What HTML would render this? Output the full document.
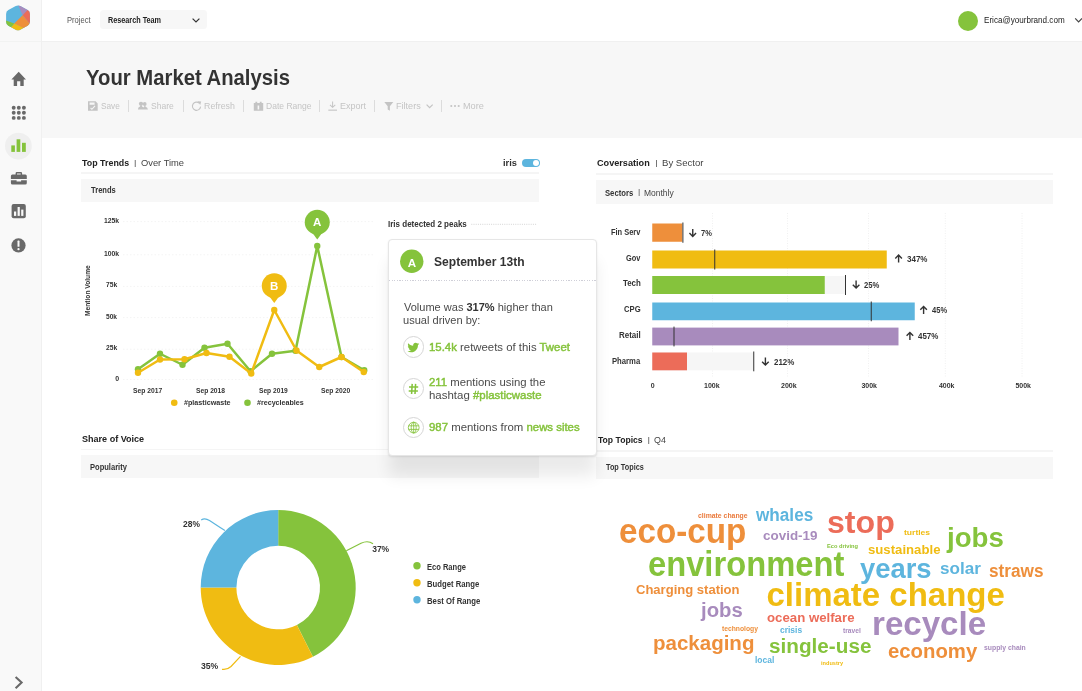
<!DOCTYPE html>
<html lang="en"><head><meta charset="utf-8"><title>Your Market Analysis</title>
<style>
*{box-sizing:border-box}
html,body{margin:0;padding:0}
body{width:1082px;height:691px;overflow:hidden;background:#fff;font-family:"Liberation Sans",sans-serif;color:#333}
#app{position:relative;width:1082px;height:691px;overflow:hidden;background:#fff}
.t{position:absolute;white-space:nowrap;line-height:1;margin:0;transform-origin:0 50%;font-weight:400}
.t b{font-weight:700;color:#333}
.t b.g{color:#85c33c;font-weight:400;-webkit-text-stroke:.45px #85c33c}
.rot{transform-origin:0 0;transform:rotate(-90deg);width:0;height:0}
svg.ov{position:absolute;left:0;top:0;width:1082px;height:691px;overflow:visible;pointer-events:none}
#sidebar{position:absolute;left:0;top:0;width:42px;height:691px;background:#f9f9f9;border-right:1px solid #f0f0f0}
#logo{position:absolute;left:0;top:0;width:41px;height:42px;border-bottom:1px solid #f2f3f2}
#header{position:absolute;left:42px;top:0;width:1040px;height:42px;background:#fff;border-bottom:1px solid #f0f0f0}
#hero{position:absolute;left:42px;top:41px;width:1040px;height:97px;background:#f7f7f7}
.select{position:absolute;left:100px;top:10.4px;width:107.4px;height:19.1px;background:#f7f7f7;border-radius:3.5px}
.avatar{position:absolute;left:957.8px;top:10.6px;width:20.2px;height:20.2px;border-radius:50%;background:#85c33c}
.sep{position:absolute;top:100px;width:1px;height:12px;background:#dcdcdc}
.rule{position:absolute;height:1.4px;background:#f5f5f5}
.band{position:absolute;background:#f7f7f7}
#tip{position:absolute;left:388.4px;top:239px;width:208.4px;height:217.4px;background:#fff;border:1px solid #e6e6e6;border-radius:4px;box-shadow:0 21px 16px -1px rgba(0,0,0,.082),0 1px 2px rgba(0,0,0,.09)}
#tip .hr{position:absolute;left:0;right:0;top:39.9px;height:1px;background:repeating-linear-gradient(90deg,#cfcfd8 0 1.3px,transparent 1.3px 2.6px)}
.ico{position:absolute;width:21.2px;height:21.2px;border:1px solid #d6d6d6;border-radius:50%;background:#fff}
.toggle{position:absolute;left:522.2px;top:159px;width:17.9px;height:8.4px;border-radius:5px;background:#5db5de}
.toggle i{position:absolute;right:.9px;top:.9px;width:6.6px;height:6.6px;border-radius:50%;background:#fff}
</style></head>
<body>
<div id="app">
<section id="hero">
</section>
<header id="header"></header>
<nav id="sidebar"><div id="logo"></div></nav>
<svg class="ov" viewBox="0 0 1082 691"><defs><clipPath id="hx"><path d="M15.72 6.00Q18.00 4.75 20.28 6.00L27.63 10.05Q29.91 11.30 29.91 13.90L29.91 21.80Q29.91 24.40 27.63 25.65L20.28 29.70Q18.00 30.95 15.72 29.70L8.37 25.65Q6.09 24.40 6.09 21.80L6.09 13.90Q6.09 11.30 8.37 10.05Z"/></clipPath></defs><g clip-path="url(#hx)"><rect x="3" y="3" width="30" height="30" fill="#5db5de"/><path d="M17.60 3.75L31.91 9.30L27.6 10.4L22.6 15.3Z" fill="#a88bbd"/><path d="M27.4 10.2L33 8L33 25L29.6 23.4L22.6 15.3Z" fill="#ec6c59"/><path d="M22.6 15.3L29.6 23.4L32 26L24 30.5L23.4 28.2L14.3 23.5Z" fill="#ee8f3b"/><path d="M14.3 23.5L23.6 28.1L18 33L10.6 27.4Z" fill="#f0bc12"/><path d="M3 19.4L14.3 23.5L10.6 27.6L3 29Z" fill="#85c33c"/></g><path d="M18.7 71.8L26 79.4H23.7V86H20.3V81.2H17.1V86H13.7V79.4H11.4Z" fill="#696969"/><circle cx="13.7" cy="107.7" r="1.95" fill="#696969"/><circle cx="18.799999999999997" cy="107.7" r="1.95" fill="#696969"/><circle cx="23.9" cy="107.7" r="1.95" fill="#696969"/><circle cx="13.7" cy="112.8" r="1.95" fill="#696969"/><circle cx="18.799999999999997" cy="112.8" r="1.95" fill="#696969"/><circle cx="23.9" cy="112.8" r="1.95" fill="#696969"/><circle cx="13.7" cy="117.9" r="1.95" fill="#696969"/><circle cx="18.799999999999997" cy="117.9" r="1.95" fill="#696969"/><circle cx="23.9" cy="117.9" r="1.95" fill="#696969"/><circle cx="18.4" cy="146.1" r="13.4" fill="#efefef"/><rect x="11.3" y="145.4" width="3.6" height="6.5" fill="#85c33c"/><rect x="16.6" y="139.3" width="3.7" height="12.6" fill="#85c33c"/><rect x="22" y="142.8" width="3.8" height="9.1" fill="#85c33c"/><path d="M15.6 174.6V173.2Q15.6 172 16.8 172H20.9Q22.1 172 22.1 173.2V174.6H25.3Q26.8 174.6 26.8 176.1V179H10.9V176.1Q10.9 174.6 12.4 174.6ZM17 174.6H20.7V173.4H17ZM10.9 180.2H16.6V181.4H21.1V180.2H26.8V183.1Q26.8 184.6 25.3 184.6H12.4Q10.9 184.6 10.9 183.1Z" fill="#696969" fill-rule="evenodd"/><rect x="11.6" y="204.1" width="14.2" height="14.2" rx="2" fill="#696969"/><rect x="14" y="211.5" width="2.2" height="4.4" fill="#f9f9f9"/><rect x="17.6" y="207" width="2.2" height="8.9" fill="#f9f9f9"/><rect x="21.2" y="209.6" width="2.2" height="6.3" fill="#f9f9f9"/><circle cx="18.5" cy="245.4" r="7.1" fill="#696969"/><rect x="17.5" y="240.6" width="2" height="6.2" rx=".6" fill="#f9f9f9"/><circle cx="18.5" cy="249.2" r="1.15" fill="#f9f9f9"/><path d="M15.6 677L21.6 682.5L15.6 688.2" fill="none" stroke="#696969" stroke-width="2.1"/></svg>
<div class="hdr"><div class="select"></div><div class="avatar"></div>
<span class="t" style="left:66.81px;top:16.10px;font-size:9px;color:#555;transform:scaleX(0.8412);">Project</span>
<span class="t" style="left:107.80px;top:16.10px;font-size:8.8px;font-weight:700;color:#222;transform:scaleX(0.8238);">Research Team</span>
<span class="t" style="left:984.07px;top:16.10px;font-size:8.6px;color:#222;transform:scaleX(0.9419);">Erica@yourbrand.com</span>
<svg class="ov" viewBox="0 0 1082 691"><path d="M192.6 18.6L196 22L199.4 18.6" fill="none" stroke="#333" stroke-width="1.2"/><path d="M1075.2 18.4L1078.6 21.8L1082 18.4" fill="none" stroke="#444" stroke-width="1.2"/></svg></div>
<div class="titlebar">
<h1 class="t h1" style="left:85.93px;top:67.10px;font-size:22px;font-weight:700;transform:scaleX(0.9217);">Your Market Analysis</h1>
<div class="toolbar"><i class="sep" style="left:128.1px"></i><i class="sep" style="left:182.6px"></i><i class="sep" style="left:242.9px"></i><i class="sep" style="left:319.1px"></i><i class="sep" style="left:374.1px"></i><i class="sep" style="left:441.1px"></i>
<span class="t" style="left:100.99px;top:101.10px;font-size:9.8px;color:#c4c4c4;transform:scaleX(0.8433);">Save</span>
<span class="t" style="left:151.48px;top:101.10px;font-size:9.8px;color:#c4c4c4;transform:scaleX(0.8742);">Share</span>
<span class="t" style="left:204.31px;top:101.10px;font-size:9.8px;color:#c4c4c4;transform:scaleX(0.9016);">Refresh</span>
<span class="t" style="left:266.08px;top:101.10px;font-size:9.8px;color:#c4c4c4;transform:scaleX(0.8703);">Date Range</span>
<span class="t" style="left:340.05px;top:101.10px;font-size:9.8px;color:#c4c4c4;transform:scaleX(0.9150);">Export</span>
<span class="t" style="left:395.54px;top:101.10px;font-size:9.8px;color:#c4c4c4;transform:scaleX(0.9277);">Filters</span>
<span class="t" style="left:462.54px;top:101.10px;font-size:9.8px;color:#c4c4c4;transform:scaleX(0.9331);">More</span>
<svg class="ov" viewBox="0 0 1082 691"><path d="M88 101.3H95.6L97.7 103.4V110.8H88ZM89.6 102.4V104.8H94.6V102.4ZM90.2 108.2L91.9 109.9L95.4 106.2L94.6 105.5L91.9 108.4L91 107.5Z" fill="#c4c4c4" fill-rule="evenodd"/><circle cx="141" cy="103.8" r="2.15" fill="#c4c4c4"/><circle cx="144.7" cy="104" r="1.9" fill="#c4c4c4"/><path d="M137.9 109.5Q138 107.2 140 106.6L140.4 105.4H141.7L142.1 106.6Q143 106.9 143.4 107.5Q143.8 106.9 144.2 106.7L144.3 105.6H145.3L145.6 106.7Q147.7 107.3 147.9 109.5Z" fill="#c4c4c4"/><path d="M199.3 103.2A4.1 4.1 0 1 0 200.6 106.6" fill="none" stroke="#c4c4c4" stroke-width="1.1"/><path d="M197.5 101.2L201.2 101.6L200.2 105Z" fill="#c4c4c4"/><path d="M253.8 103H255.4V101.8H257.2V103H259.8V101.8H261.6V103H263.2V110.8H253.8ZM257.6 105.4V109.6H259.2V105.4Z" fill="#c4c4c4" fill-rule="evenodd"/><path d="M332.1 101.4H333.1V106.2L334.9 104.6L335.6 105.3L332.6 108L329.6 105.3L330.3 104.6L332.1 106.2Z" fill="#c4c4c4"/><rect x="328.3" y="109.6" width="8.7" height="1.1" fill="#c4c4c4"/><path d="M384.3 102H393.3L389.9 106.2V110.8L387.7 109.6V106.2Z" fill="#c4c4c4"/><path d="M426.6 104.6L429.6 107.6L432.7 104.6" fill="none" stroke="#c4c4c4" stroke-width="1.2"/><circle cx="451.3" cy="106" r="1.05" fill="#c4c4c4"/><circle cx="455" cy="106" r="1.05" fill="#c4c4c4"/><circle cx="458.7" cy="106" r="1.05" fill="#c4c4c4"/></svg></div></div>
<section class="panel" id="p3"><div class="rule" style="left:81px;top:448.8px;width:458px"></div><div class="band" style="left:81px;top:455px;width:458px;height:23px"></div>
<span class="t" style="left:82.06px;top:434.10px;font-size:9.8px;font-weight:700;color:#222;transform:scaleX(0.9231);">Share of Voice</span>
<span class="t" style="left:90.03px;top:463.10px;font-size:8.4px;font-weight:700;transform:scaleX(0.9016);">Popularity</span>
<span class="t" style="left:182.74px;top:520.10px;font-size:8.5px;font-weight:700;transform:scaleX(0.9922);">28%</span>
<span class="t" style="left:372.17px;top:545.10px;font-size:8.5px;font-weight:700;">37%</span>
<span class="t" style="left:200.62px;top:662.10px;font-size:8.5px;font-weight:700;transform:scaleX(1.0142);">35%</span>
<span class="t" style="left:426.93px;top:563.10px;font-size:8.5px;font-weight:700;transform:scaleX(0.8867);">Eco Range</span>
<span class="t" style="left:426.92px;top:580.10px;font-size:8.5px;font-weight:700;transform:scaleX(0.9071);">Budget Range</span>
<span class="t" style="left:426.92px;top:597.10px;font-size:8.5px;font-weight:700;transform:scaleX(0.9095);">Best Of Range</span>
<svg class="ov" viewBox="0 0 1082 691"><path d="M278.20 510.00A77.5 77.5 0 0 1 312.90 656.80L296.92 624.88A41.8 41.8 0 0 0 278.20 545.70Z" fill="#85c33c"/><path d="M312.90 656.80A77.5 77.5 0 0 1 200.70 587.50L236.40 587.50A41.8 41.8 0 0 0 296.92 624.88Z" fill="#f0bc12"/><path d="M200.70 587.50A77.5 77.5 0 0 1 278.20 510.00L278.20 545.70A41.8 41.8 0 0 0 236.40 587.50Z" fill="#5db5de"/><path d="M201.2 520.1C203.4 518.5 206.4 518.6 209.5 520.6C214 523.4 219 527 224.9 530.5" fill="none" stroke="#5db5de" stroke-width="1.2"/><path d="M346.3 550.8L361 543.2Q368 540 373 543.8" fill="none" stroke="#85c33c" stroke-width="1.2"/><path d="M222 669.3Q227 670.2 231 666.5L240.5 656.3" fill="none" stroke="#f0bc12" stroke-width="1.2"/><circle cx="417" cy="565.7" r="3.7" fill="#85c33c"/><circle cx="417" cy="582.7" r="3.7" fill="#f0bc12"/><circle cx="417" cy="599.8" r="3.7" fill="#5db5de"/></svg></section>
<section class="panel" id="p4"><div class="rule" style="left:596.2px;top:450.2px;width:457px"></div><div class="band" style="left:596.2px;top:456.5px;width:457px;height:22.3px"></div>
<span class="t" style="left:598.00px;top:435.10px;font-size:9.8px;font-weight:700;color:#222;transform:scaleX(0.8780);">Top Topics</span>
<span class="t" style="left:648.70px;top:436.10px;font-size:7px;font-weight:700;color:#666;transform:translateX(-50%);">|</span>
<span class="t" style="left:654.33px;top:435.10px;font-size:9.8px;color:#444;transform:scaleX(0.9091);">Q4</span>
<span class="t" style="left:606.25px;top:463.10px;font-size:8.4px;font-weight:700;transform:scaleX(0.8704);">Top Topics</span>
<div class="cloud">
<span class="t" style="left:698.04px;top:512.10px;font-size:7px;font-weight:700;color:#ea7a3c;transform:scaleX(0.9814);">climate change</span>
<span class="t" style="left:755.87px;top:507.10px;font-size:17.5px;font-weight:700;color:#5db5de;transform:scaleX(0.9803);">whales</span>
<span class="t" style="left:619.46px;top:514.10px;font-size:34.5px;font-weight:700;color:#ee8f3b;transform:scaleX(0.9629);">eco-cup</span>
<span class="t" style="left:763.33px;top:529.10px;font-size:13.5px;font-weight:700;color:#a88bbd;transform:scaleX(0.9949);">covid-19</span>
<span class="t" style="left:827.25px;top:507.10px;font-size:31px;font-weight:700;color:#ec6c59;transform:scaleX(1.0362);">stop</span>
<span class="t" style="left:903.75px;top:529.10px;font-size:8px;font-weight:700;color:#f0bc12;transform:scaleX(1.0672);">turtles</span>
<span class="t" style="left:946.68px;top:525.10px;font-size:27px;font-weight:700;color:#85c33c;transform:scaleX(1.0257);">jobs</span>
<span class="t" style="left:826.64px;top:543.10px;font-size:6px;font-weight:700;color:#85c33c;transform:scaleX(0.9479);">Eco driving</span>
<span class="t" style="left:867.84px;top:543.10px;font-size:13.5px;font-weight:700;color:#f0bc12;transform:scaleX(0.9759);">sustainable</span>
<span class="t" style="left:647.58px;top:546.10px;font-size:35px;font-weight:700;color:#85c33c;transform:scaleX(0.9347);">environment</span>
<span class="t" style="left:859.50px;top:554.10px;font-size:28.5px;font-weight:700;color:#5db5de;transform:scaleX(0.9612);">years</span>
<span class="t" style="left:940.22px;top:561.10px;font-size:16px;font-weight:700;color:#5db5de;transform:scaleX(1.0660);">solar</span>
<span class="t" style="left:989.46px;top:562.10px;font-size:18px;font-weight:700;color:#ee8f3b;transform:scaleX(0.9551);">straws</span>
<span class="t" style="left:635.84px;top:584.10px;font-size:12.5px;font-weight:700;color:#ee8f3b;transform:scaleX(1.0425);">Charging station</span>
<span class="t" style="left:766.46px;top:578.10px;font-size:33px;font-weight:700;color:#f0bc12;">climate change</span>
<span class="t" style="left:701.07px;top:601.10px;font-size:19.5px;font-weight:700;color:#a88bbd;transform:scaleX(1.0415);">jobs</span>
<span class="t" style="left:766.59px;top:611.10px;font-size:13px;font-weight:700;color:#ec6c59;transform:scaleX(1.0174);">ocean welfare</span>
<span class="t" style="left:872.43px;top:606.10px;font-size:34px;font-weight:700;color:#a88bbd;transform:scaleX(0.9736);">recycle</span>
<span class="t" style="left:721.75px;top:625.10px;font-size:7px;font-weight:700;color:#ee8f3b;transform:scaleX(0.9629);">technology</span>
<span class="t" style="left:780.24px;top:626.10px;font-size:9px;font-weight:700;color:#5db5de;transform:scaleX(0.9395);">crisis</span>
<span class="t" style="left:843.00px;top:627.10px;font-size:7px;font-weight:700;color:#a88bbd;transform:scaleX(0.9576);">travel</span>
<span class="t" style="left:653.02px;top:633.10px;font-size:20.5px;font-weight:700;color:#ee8f3b;">packaging</span>
<span class="t" style="left:768.85px;top:636.10px;font-size:20px;font-weight:700;color:#85c33c;transform:scaleX(1.0353);">single-use</span>
<span class="t" style="left:888.11px;top:641.10px;font-size:20.5px;font-weight:700;color:#ee8f3b;transform:scaleX(0.9917);">economy</span>
<span class="t" style="left:983.79px;top:645.10px;font-size:6.5px;font-weight:700;color:#a88bbd;transform:scaleX(1.0518);">supply chain</span>
<span class="t" style="left:754.97px;top:656.10px;font-size:8.5px;font-weight:700;color:#5db5de;transform:scaleX(0.9950);">local</span>
<span class="t" style="left:821.05px;top:660.10px;font-size:6px;font-weight:700;color:#f0bc12;transform:scaleX(0.9364);">industry</span>
</div></section>
<section class="panel" id="p2"><div class="rule" style="left:596.2px;top:173px;width:457px;height:1.7px"></div><div class="band" style="left:596.2px;top:180.2px;width:457px;height:23.6px"></div>
<span class="t" style="left:597.21px;top:158.10px;font-size:9.8px;font-weight:700;color:#222;transform:scaleX(0.9311);">Coversation</span>
<span class="t" style="left:656.40px;top:159.10px;font-size:7px;font-weight:700;color:#666;transform:translateX(-50%);">|</span>
<span class="t" style="left:661.75px;top:158.10px;font-size:9.8px;color:#444;transform:scaleX(0.9779);">By Sector</span>
<span class="t" style="left:605.38px;top:189.10px;font-size:8.4px;font-weight:700;transform:scaleX(0.9170);">Sectors</span>
<span class="t" style="left:639.20px;top:189.10px;font-size:6.4px;font-weight:700;color:#666;transform:translateX(-50%);">|</span>
<span class="t" style="left:644.09px;top:189.10px;font-size:8.4px;color:#444;transform:scaleX(1.0114);">Monthly</span>
<span class="t" style="left:610.53px;top:228.10px;font-size:8.6px;font-weight:700;transform:scaleX(0.8673);">Fin Serv</span>
<span class="t" style="left:625.52px;top:254.10px;font-size:8.6px;font-weight:700;transform:scaleX(0.8634);">Gov</span>
<span class="t" style="left:622.55px;top:279.10px;font-size:8.6px;font-weight:700;transform:scaleX(0.9181);">Tech</span>
<span class="t" style="left:623.81px;top:305.10px;font-size:8.6px;font-weight:700;transform:scaleX(0.8937);">CPG</span>
<span class="t" style="left:618.75px;top:331.10px;font-size:8.6px;font-weight:700;transform:scaleX(0.9280);">Retail</span>
<span class="t" style="left:611.77px;top:357.10px;font-size:8.6px;font-weight:700;transform:scaleX(0.8938);">Pharma</span>
<span class="t" style="left:700.52px;top:229.10px;font-size:8.6px;font-weight:700;transform:scaleX(0.8727);">7%</span>
<span class="t" style="left:906.87px;top:255.10px;font-size:8.6px;font-weight:700;transform:scaleX(0.9320);">347%</span>
<span class="t" style="left:863.76px;top:281.10px;font-size:8.6px;font-weight:700;transform:scaleX(0.8922);">25%</span>
<span class="t" style="left:932.00px;top:306.10px;font-size:8.6px;font-weight:700;transform:scaleX(0.8782);">45%</span>
<span class="t" style="left:918.00px;top:332.10px;font-size:8.6px;font-weight:700;transform:scaleX(0.9262);">457%</span>
<span class="t" style="left:773.50px;top:358.10px;font-size:8.6px;font-weight:700;transform:scaleX(0.9262);">212%</span>
<span class="t" style="left:652.60px;top:382.10px;font-size:7px;font-weight:700;transform:translateX(-50%);">0</span>
<span class="t" style="left:703.81px;top:382.10px;font-size:7px;font-weight:700;transform:scaleX(1.0043);">100k</span>
<span class="t" style="left:780.78px;top:382.10px;font-size:7px;font-weight:700;transform:scaleX(1.0062);">200k</span>
<span class="t" style="left:861.39px;top:382.10px;font-size:7px;font-weight:700;">300k</span>
<span class="t" style="left:938.50px;top:382.10px;font-size:7px;font-weight:700;transform:scaleX(0.9922);">400k</span>
<span class="t" style="left:1015.39px;top:382.10px;font-size:7px;font-weight:700;">500k</span>
<svg class="ov" viewBox="0 0 1082 691"><path d="M712.5 213V378" stroke="#f0f0f0" stroke-width="1" stroke-dasharray="1 1.5"/><path d="M787.5 213V378" stroke="#f0f0f0" stroke-width="1" stroke-dasharray="1 1.5"/><path d="M868.5 213V378" stroke="#f0f0f0" stroke-width="1" stroke-dasharray="1 1.5"/><path d="M945.25 213V378" stroke="#f0f0f0" stroke-width="1" stroke-dasharray="1 1.5"/><path d="M1022 213V378" stroke="#f0f0f0" stroke-width="1" stroke-dasharray="1 1.5"/><rect x="652.25" y="223.5" width="30.00" height="18.25" fill="#ee8f3b"/><rect x="682.40" y="222.5" width="1" height="20.25" fill="#333"/><rect x="652.25" y="250.5" width="234.50" height="18.00" fill="#f0bc12"/><rect x="714.25" y="249.5" width="1" height="20.00" fill="#333"/><rect x="652.25" y="276" width="193.25" height="18.00" fill="#f6f6f6"/><rect x="652.25" y="276" width="172.50" height="18.00" fill="#85c33c"/><rect x="845.00" y="275" width="1" height="20.00" fill="#333"/><rect x="652.25" y="302.5" width="262.50" height="17.75" fill="#5db5de"/><rect x="870.75" y="301.5" width="1" height="19.75" fill="#333"/><rect x="652.25" y="327.6" width="246.25" height="17.80" fill="#a88bbd"/><rect x="673.50" y="326.6" width="1" height="19.80" fill="#333"/><rect x="652.25" y="352.5" width="101.50" height="17.80" fill="#f6f6f6"/><rect x="652.25" y="352.5" width="34.75" height="17.80" fill="#ec6c59"/><rect x="753.25" y="351.5" width="1" height="19.80" fill="#333"/><path d="M692.75 228.9V236.3M689.45 233.10000000000002L692.75 236.4L696.05 233.10000000000002" fill="none" stroke="#333" stroke-width="1.4"/><path d="M898.6 262.59999999999997V255.2M895.3000000000001 258.4L898.6 255.1L901.9 258.4" fill="none" stroke="#333" stroke-width="1.4"/><path d="M856.1 280.6V288.0M852.8000000000001 284.79999999999995L856.1 288.09999999999997L859.4 284.79999999999995" fill="none" stroke="#333" stroke-width="1.4"/><path d="M923.6 314.0V306.6M920.3000000000001 309.80000000000007L923.6 306.50000000000006L926.9 309.80000000000007" fill="none" stroke="#333" stroke-width="1.4"/><path d="M909.9 340.0V332.6M906.6 335.80000000000007L909.9 332.50000000000006L913.1999999999999 335.80000000000007" fill="none" stroke="#333" stroke-width="1.4"/><path d="M765.4 357.6V365.0M762.1 361.79999999999995L765.4 365.09999999999997L768.6999999999999 361.79999999999995" fill="none" stroke="#333" stroke-width="1.4"/></svg></section>
<section class="panel" id="p1"><div class="rule" style="left:81px;top:172.4px;width:458px"></div><div class="band" style="left:81px;top:179.1px;width:458px;height:22.7px"></div><div class="toggle"><i></i></div>
<svg class="ov" viewBox="0 0 1082 691"><path d="M123 221.6H373" stroke="#f4f4f4" stroke-width="1" stroke-dasharray="1.5 2"/><path d="M123 254.8H373" stroke="#f4f4f4" stroke-width="1" stroke-dasharray="1.5 2"/><path d="M123 286.4H373" stroke="#f4f4f4" stroke-width="1" stroke-dasharray="1.5 2"/><path d="M123 317.6H373" stroke="#f4f4f4" stroke-width="1" stroke-dasharray="1.5 2"/><path d="M123 349.2H373" stroke="#f4f4f4" stroke-width="1" stroke-dasharray="1.5 2"/><path d="M123 379.5H373" stroke="#f4f4f4" stroke-width="1" stroke-dasharray="1.5 2"/><path d="M471.3 224.3H537" stroke="#d4d4d4" stroke-width="1" stroke-dasharray="1 1.2"/><path d="M138 369.25 L160 353.75 L182.5 364.75 L204.5 347.75 L227.5 343.75 L250.5 371.25 L272 353.75 L295.5 350.75 L317.25 246 L341.5 357 L364.25 370.25" fill="none" stroke="#85c33c" stroke-width="2.5" stroke-linejoin="round"/><circle cx="138" cy="369.25" r="3.2" fill="#85c33c"/><circle cx="160" cy="353.75" r="3.2" fill="#85c33c"/><circle cx="182.5" cy="364.75" r="3.2" fill="#85c33c"/><circle cx="204.5" cy="347.75" r="3.2" fill="#85c33c"/><circle cx="227.5" cy="343.75" r="3.2" fill="#85c33c"/><circle cx="250.5" cy="371.25" r="3.2" fill="#85c33c"/><circle cx="272" cy="353.75" r="3.2" fill="#85c33c"/><circle cx="295.5" cy="350.75" r="3.2" fill="#85c33c"/><circle cx="317.25" cy="246" r="3.2" fill="#85c33c"/><circle cx="341.5" cy="357" r="3.2" fill="#85c33c"/><circle cx="364.25" cy="370.25" r="3.2" fill="#85c33c"/><path d="M138 372.75 L160 359.5 L184.5 359.25 L206.5 353 L229.5 356.75 L251.25 373.5 L274.25 310 L296.5 350.5 L319.25 367 L341.5 357 L363.75 372" fill="none" stroke="#f0bc12" stroke-width="2.5" stroke-linejoin="round"/><circle cx="138" cy="372.75" r="3.2" fill="#f0bc12"/><circle cx="160" cy="359.5" r="3.2" fill="#f0bc12"/><circle cx="184.5" cy="359.25" r="3.2" fill="#f0bc12"/><circle cx="206.5" cy="353" r="3.2" fill="#f0bc12"/><circle cx="229.5" cy="356.75" r="3.2" fill="#f0bc12"/><circle cx="251.25" cy="373.5" r="3.2" fill="#f0bc12"/><circle cx="274.25" cy="310" r="3.2" fill="#f0bc12"/><circle cx="296.5" cy="350.5" r="3.2" fill="#f0bc12"/><circle cx="319.25" cy="367" r="3.2" fill="#f0bc12"/><circle cx="341.5" cy="357" r="3.2" fill="#f0bc12"/><circle cx="363.75" cy="372" r="3.2" fill="#f0bc12"/><circle cx="317.25" cy="222.25" r="12.5" fill="#85c33c"/><path d="M312.25 232.75L322.25 232.75L317.25 239.55Z" fill="#85c33c"/><circle cx="274.25" cy="285.75" r="12.5" fill="#f0bc12"/><path d="M269.25 296.25L279.25 296.25L274.25 303.05Z" fill="#f0bc12"/><circle cx="174.25" cy="402.75" r="3.3" fill="#f0bc12"/><circle cx="247.5" cy="402.75" r="3.3" fill="#85c33c"/></svg>
<span class="t" style="left:82.20px;top:158.10px;font-size:9.8px;font-weight:700;color:#222;transform:scaleX(0.9056);">Top Trends</span>
<span class="t" style="left:135.20px;top:159.10px;font-size:7px;font-weight:700;color:#666;transform:translateX(-50%);">|</span>
<span class="t" style="left:140.81px;top:158.10px;font-size:9.8px;color:#444;transform:scaleX(0.9531);">Over Time</span>
<span class="t" style="left:503.22px;top:158.10px;font-size:9.8px;font-weight:700;transform:scaleX(0.9483);">iris</span>
<span class="t" style="left:90.50px;top:186.10px;font-size:8.4px;font-weight:700;transform:scaleX(0.9031);">Trends</span>
<span class="t" style="left:104.08px;top:217.10px;font-size:7px;font-weight:700;transform:scaleX(0.9714);">125k</span>
<span class="t" style="left:104.08px;top:250.10px;font-size:7px;font-weight:700;transform:scaleX(0.9714);">100k</span>
<span class="t" style="left:106.04px;top:281.10px;font-size:7px;font-weight:700;transform:scaleX(0.9554);">75k</span>
<span class="t" style="left:106.15px;top:313.10px;font-size:7px;font-weight:700;transform:scaleX(0.9464);">50k</span>
<span class="t" style="left:106.04px;top:344.10px;font-size:7px;font-weight:700;transform:scaleX(0.9554);">25k</span>
<span class="t" style="left:117.20px;top:375.10px;font-size:7px;font-weight:700;transform:translateX(-50%);">0</span>
<span class="t" style="left:132.89px;top:387.10px;font-size:7.2px;font-weight:700;transform:scaleX(0.9344);">Sep 2017</span>
<span class="t" style="left:195.65px;top:387.10px;font-size:7.2px;font-weight:700;transform:scaleX(0.9310);">Sep 2018</span>
<span class="t" style="left:258.65px;top:387.10px;font-size:7.2px;font-weight:700;transform:scaleX(0.9229);">Sep 2019</span>
<span class="t" style="left:321.14px;top:387.10px;font-size:7.2px;font-weight:700;transform:scaleX(0.9344);">Sep 2020</span>
<span class="t" style="left:183.89px;top:399.10px;font-size:7.4px;font-weight:700;transform:scaleX(0.9680);">#plasticwaste</span>
<span class="t" style="left:256.89px;top:399.10px;font-size:7.4px;font-weight:700;transform:scaleX(0.9618);">#recycleables</span>
<span class="t rot" style="left:89.75px;top:316px"><span class="t" style="left:-0.42px;top:-4.90px;font-size:6.6px;font-weight:700;transform:scaleX(1.0068);">Mention Volume</span></span>
<span class="t" style="left:317.25px;top:217.10px;font-size:11.5px;font-weight:700;color:#fff;transform:translateX(-50%);">A</span>
<span class="t" style="left:274.25px;top:281.10px;font-size:11.5px;font-weight:700;color:#fff;transform:translateX(-50%);">B</span>
<span class="t" style="left:387.75px;top:220.10px;font-size:8.4px;font-weight:700;transform:scaleX(0.9566);">Iris detected 2 peaks</span>
</section>
<aside id="tip"><div class="hr"></div></aside>
<div class="tipc"><i class="ico" style="left:402.9px;top:336.4px"></i><i class="ico" style="left:402.9px;top:377.9px"></i><i class="ico" style="left:402.9px;top:417.2px"></i>
<svg class="ov" viewBox="0 0 1082 691"><circle cx="411.75" cy="261.25" r="11.7" fill="#85c33c"/><path transform="translate(407.6 341.6) scale(0.49)" d="M23.6 4.6c-.9.4-1.8.7-2.8.8 1-.6 1.8-1.6 2.1-2.7-.9.6-2 1-3.100 1.200-.9-1-2.200-1.600-3.600-1.600-2.700 0-4.900 2.200-4.900 4.900 0 .4 0 .8.100 1.100-4.100-.2-7.700-2.200-10.100-5.100-.4.700-.7 1.600-.7 2.500 0 1.700.9 3.200 2.200 4.100-.8 0-1.600-.2-2.200-.6v.100c0 2.400 1.700 4.400 3.900 4.800-.4.100-.8.200-1.300.2-.3 0-.6 0-.900-.1.600 2 2.400 3.400 4.600 3.400-1.700 1.300-3.800 2.100-6.100 2.100-.4 0-.8 0-1.200-.1 2.200 1.400 4.800 2.200 7.500 2.200 9.100 0 14-7.500 14-14v-.6c1-.7 1.800-1.600 2.500-2.600z" fill="#85c33c"/><g fill="none" stroke="#85c33c" stroke-width="0.85"><circle cx="413.7" cy="427.6" r="5.4"/><ellipse cx="413.7" cy="427.6" rx="2.5" ry="5.4"/><path d="M408.6 425.8H418.8M408.6 429.4H418.8M413.7 422.2V433"/></g><path d="M412.2 383.9L411.6 394M415.6 383.9L415 394M409 387H418.2M408.7 390.9H417.9" fill="none" stroke="#85c33c" stroke-width="1.55"/></svg>
<span class="t" style="left:411.90px;top:257.10px;font-size:11.6px;font-weight:700;color:#fff;transform:translateX(-50%);">A</span>
<span class="t" style="left:433.56px;top:256.10px;font-size:12.4px;font-weight:700;transform:scaleX(0.9737);">September 13th</span>
<span class="t" style="left:403.75px;top:302.10px;font-size:11.2px;color:#4a4a4a;transform:scaleX(0.9849);">Volume was <b>317%</b> higher than</span>
<span class="t" style="left:403.06px;top:315.10px;font-size:11.2px;color:#4a4a4a;transform:scaleX(0.9883);">usual driven by:</span>
<span class="t" style="left:429.04px;top:342.10px;font-size:11.2px;color:#4a4a4a;transform:scaleX(1.0175);"><b class="g">15.4k</b> retweets of this <b class="g">Tweet</b></span>
<span class="t" style="left:429.22px;top:377.10px;font-size:11.2px;color:#4a4a4a;transform:scaleX(1.0141);"><b class="g">211</b> mentions using the</span>
<span class="t" style="left:429.03px;top:390.10px;font-size:11.2px;color:#4a4a4a;transform:scaleX(1.0235);">hashtag <b class="g">#plasticwaste</b></span>
<span class="t" style="left:429.22px;top:422.10px;font-size:11.2px;color:#4a4a4a;transform:scaleX(1.0177);"><b class="g">987</b> mentions from <b class="g">news sites</b></span>
</div>
</div>
</body></html>
